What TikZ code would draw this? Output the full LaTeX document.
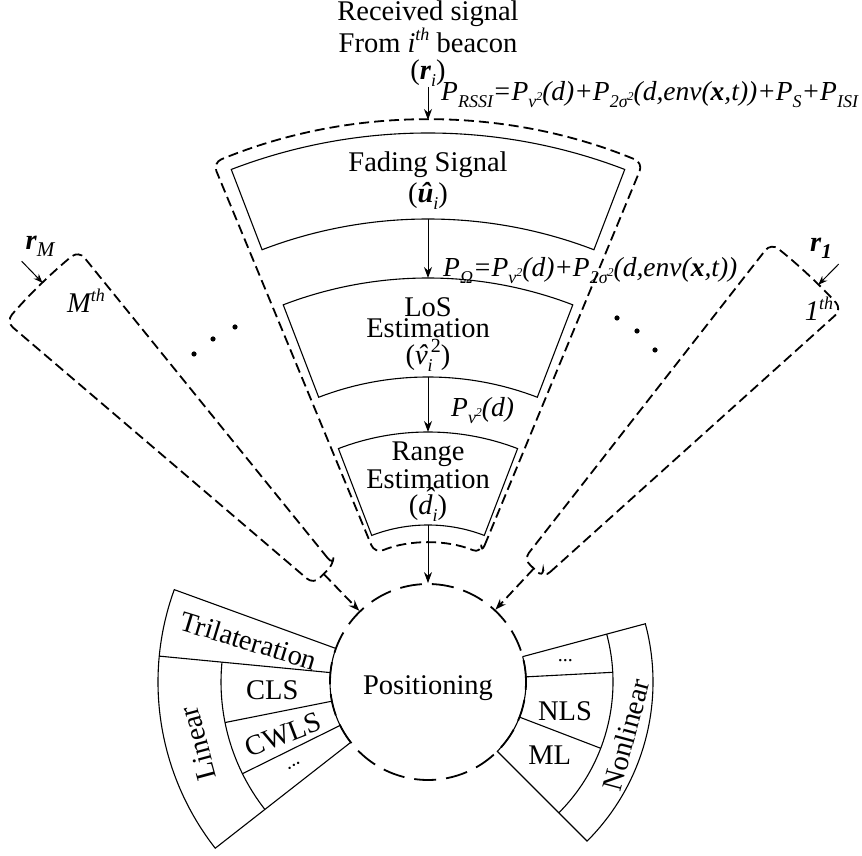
\documentclass[tikz,border=0pt]{standalone}
\usepackage{fontspec}
\setmainfont{Liberation Serif}
\usepackage{tikz}
\usetikzlibrary{arrows.meta,positioning}
\newcommand{\sbs}[1]{\raisebox{-0.25em}{\fontsize{18}{18}\selectfont\itshape #1}}
\newcommand{\sps}[1]{\raisebox{0.4em}{\fontsize{12}{12}\selectfont #1}}
\newcommand{\Pw}[1]{\textit{P}\sbs{#1}}
\newcommand{\hatv}{\ooalign{\textit{v}\cr\hidewidth\kern0.1em\textit{ˆ}\hidewidth\cr}}
\newcommand{\hatd}{\ooalign{\textit{d}\cr\hidewidth\kern0.3em\raisebox{0.24em}{\textit{ˆ}}\hidewidth\cr}}

\begin{document}
\begin{tikzpicture}[x=1pt, y=1pt, >={Stealth[length=11pt,width=8pt]},
    box/.style={draw, line width=1.1pt},
    hull/.style={draw, line width=1.8pt, dash pattern=on 10pt off 5pt, rounded corners=9pt},
    txt/.style={font=\fontsize{28.5}{31}\selectfont, align=center, inner sep=0pt},
    eq/.style={font=\fontsize{27.5}{30}\selectfont\itshape, anchor=base west, inner sep=0pt}]
  \useasboundingbox (0,0) rectangle (862,856);
  \coordinate (O) at (428,174);

  % hub
  \node[circle, draw, line width=1.8pt, dash pattern=on 22pt off 10pt,
        minimum size=196pt] (pos) at (O) {};
  \node[txt] (posText) at ([yshift=-6pt]O) {Positioning};

  \begin{scope}[shift={(O)}]
      % chain of the i-th beacon
      \draw[hull] (67.5:139) -- (67.5:562) arc[start angle=67.5, end angle=112.5, radius=562]
                  -- (112.5:139) arc[start angle=112.5, end angle=67.5, radius=139] -- cycle;
      \draw[box] (69:463) -- (69:549) arc[start angle=69, end angle=111, radius=549]
                 -- (111:463) arc[start angle=111, end angle=69, radius=463] -- cycle;
      \draw[box] (69:305) -- (69:404) arc[start angle=69, end angle=111, radius=404]
                 -- (111:305) arc[start angle=111, end angle=69, radius=305] -- cycle;
      \draw[box] (69:157) -- (69:250) arc[start angle=69, end angle=111, radius=250]
                 -- (111:157) arc[start angle=111, end angle=69, radius=157] -- cycle;
      \coordinate (envTop) at (90:562);
      \coordinate (fadeIn) at (90:463);
      \coordinate (losOut) at (90:404);
      \coordinate (losIn) at (90:305);
      \coordinate (rangeOut) at (90:250);
      \coordinate (rangeIn) at (90:157);
      \node[txt] (fading) at (90:501) {Fading Signal\\(\textbf{\textit{û}}\sbs{i})};
      \node[txt] (los) at (90:347) {LoS\\[-10pt]Estimation\\[-4pt](\hatv\rlap{\sbs{i}}\raisebox{0.45em}{\fontsize{20}{20}\selectfont\,2})};
      \node[txt] (range) at (90:200) {Range\\[-3pt]Estimation\\[-5pt](\hatd\sbs{i})};

      % the other beacons
      \draw[hull] (129:150) -- (129:555) arc[start angle=129, end angle=139.5, radius=555]
                  -- (139.5:150) arc[start angle=139.5, end angle=129, radius=150] -- cycle;
      \draw[hull] (42:155) -- (42:557) arc[start angle=42, end angle=52, radius=557]
                  -- (52:155) arc[start angle=52, end angle=42, radius=155] -- cycle;
      \coordinate (mIn) at (134:150);
      \coordinate (mOut) at (134:555);
      \coordinate (mTail) at (134:585);
      \coordinate (oneIn) at (47:155);
      \coordinate (oneOut) at (45.5:557);
      \coordinate (oneTail) at (45.5:586);

      % linear methods
      \draw[box] (160:98) -- (160:270) arc[start angle=160, end angle=218, radius=270]
                 -- (218:98) arc[start angle=218, end angle=160, radius=98];
      \draw[box] (174.5:98) -- (174.5:270);
      \draw[box] (174.5:207) arc[start angle=174.5, end angle=218, radius=207];
      \draw[box] (191.3:98) -- (191.3:207);
      \draw[box] (206.3:98) -- (206.3:207);
      \node[txt, rotate=-17] (tri) at (167:184) {Trilateration};
      \node[txt, rotate=105] (lin) at (195:238) {Linear};
      \node[txt] (cls) at (183:156) {CLS};
      \node[txt, rotate=21] (cwls) at (200:154) {CWLS};
      \node[txt, font=\fontsize{20}{22}\selectfont, rotate=33] (linMore) at (212:158) {...};

      % nonlinear methods
      \draw[box] (15:98) -- (15:225) arc[start angle=15, end angle=-45, radius=225]
                 -- (-45:98) arc[start angle=-45, end angle=15, radius=98];
      \draw[box] (15:185) arc[start angle=15, end angle=-45, radius=185];
      \draw[box] (3:98) -- (3:185);
      \draw[box] (-21:98) -- (-21:185);
      \node[txt, rotate=75] (nonlin) at (-15:205) {Nonlinear};
      \node[txt, font=\fontsize{20}{22}\selectfont] (nonlinMore) at (9:139) {...};
      \node[txt] (nls) at (-12:140) {NLS};
      \node[txt] (ml) at (-31:142) {ML};
  \end{scope}

  \node[txt, font=\fontsize{28.5}{27.5}\selectfont, anchor=north] (recv) at (428,855)
       {Received signal\\From \textit{i}\raisebox{0.4em}{\fontsize{18}{18}\selectfont\itshape th} beacon\\(\textbf{\textit{r}}\sbs{i})};
  \node[eq] (pRssi) at (441,755) {\Pw{RSSI}=\Pw{v\sps{2}}(d)+\Pw{2σ\sps{2}}(d,env(\textbf{x},t))+\Pw{S}+\Pw{ISI}};
  \node[eq] (pOmega) at (443,579) {\Pw{Ω}=\Pw{v\sps{2}}(d)+\Pw{2σ\sps{2}}(d,env(\textbf{x},t))};
  \node[eq] (pLos) at (451,439) {\Pw{v\sps{2}}(d)};

  \node[txt] (rM) at (40,610) {\textbf{\textit{r}}\raisebox{-0.25em}{\fontsize{21}{21}\selectfont\itshape M}};
  \node[txt] (rOne) at (821,608) {\textbf{\textit{r}}\raisebox{-0.25em}{\fontsize{21}{21}\selectfont\bfseries\itshape 1}};
  \node[txt, font=\fontsize{28.5}{31}\selectfont\itshape] (mth) at (86,555) {M\raisebox{0.4em}{\fontsize{18}{18}\selectfont th}};
  \node[txt, font=\fontsize{28.5}{31}\selectfont\itshape] (oneth) at (819,547) {1\raisebox{0.4em}{\fontsize{18}{18}\selectfont th}};

  \foreach \p in {(194,502),(213,517),(235,529),(617,538),(637,525),(655,506)}
      \fill \p circle (2.6pt);

  \draw[->, line width=1pt] (recv) -- (envTop);
  \draw[->, line width=1pt] (fadeIn) -- (losOut);
  \draw[->, line width=1pt] (losIn) -- (rangeOut);
  \draw[->, line width=1pt] (rangeIn) -- (pos.north);
  \draw[->, line width=1.8pt, dash pattern=on 10pt off 5pt] (mIn) -- (pos.134);
  \draw[->, line width=1.8pt, dash pattern=on 10pt off 5pt] (oneIn) -- (pos.47);
  \draw[-{Stealth[length=9pt,width=7pt]}, line width=1pt] (mTail) -- (mOut);
  \draw[-{Stealth[length=9pt,width=7pt]}, line width=1pt] (oneTail) -- (oneOut);
\end{tikzpicture}
\end{document}
